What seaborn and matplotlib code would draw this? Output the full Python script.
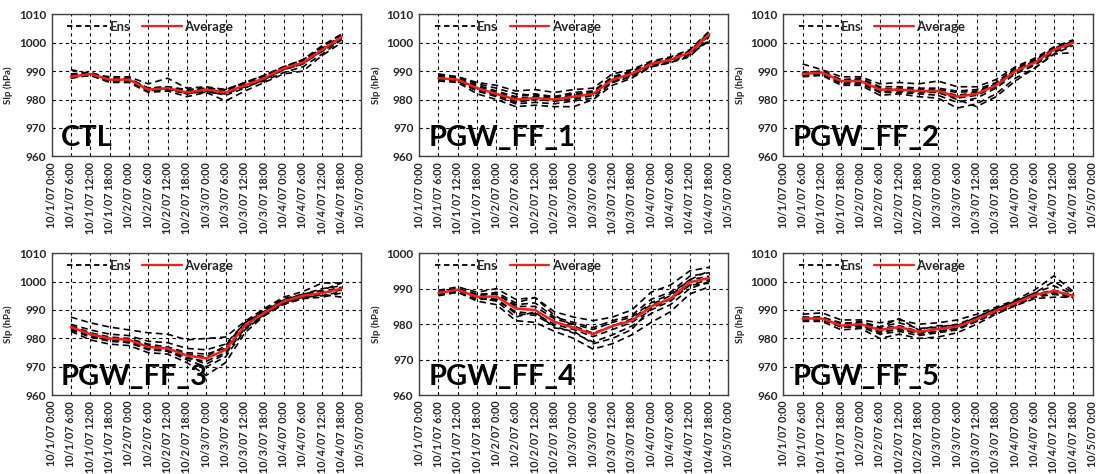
import pandas as pd
import matplotlib.pyplot as plt
import seaborn as sns
from matplotlib.lines import Line2D

# time axis: hours since 10/1/07 0:00 (6-hourly, 10/1 6:00 .. 10/4 18:00)
hours = [6, 12, 18, 24, 30, 36, 42, 48, 54, 60, 66, 72, 78, 84, 90]

# ---- CTL ----
ctl_avg = [988, 989, 987, 987, 983.5, 984, 982.5, 983.5, 982.5, 985, 987.5, 991, 993, 997.5, 1002]
ctl_ens = [
    [988.5, 989.5, 987.5, 987.5, 984, 984.5, 983, 984, 983, 985.5, 988, 991.5, 993.5, 998.5, 1003],
    [987.5, 988.5, 986.5, 986.5, 983, 983.5, 982, 983, 982, 984.5, 987, 990.5, 992.5, 997, 1001.5],
    [990.5, 989, 988, 988, 985.5, 987.5, 984, 984.5, 983.5, 986, 988.5, 991.5, 994, 999, 1003],
    [988, 988.5, 986, 986, 982.5, 983, 981, 982.5, 979.5, 983, 986, 989, 990, 995.5, 1000],
    [989, 989.5, 987.5, 987, 984, 984.5, 983.5, 984, 983.5, 986, 988.5, 991.5, 994, 998, 1002.5],
    [987.5, 989, 986.5, 987.5, 983, 984, 982, 983, 981.5, 984, 987, 990.5, 992.5, 997.5, 1002],
    [988, 988.5, 987, 986.5, 984, 983.5, 982.5, 982.5, 982, 985, 987.5, 991, 993, 997, 1001.5],
    [988.5, 989, 987, 987, 983.5, 984, 983, 983.5, 982.5, 984.5, 986.5, 989.5, 991.5, 996, 1001],
]

# ---- PGW_FF_1 ----
ff1_avg = [987.5, 987, 984, 982, 980, 980.5, 980, 981, 982, 987, 989, 992.5, 994, 996.5, 1003]
ff1_ens = [
    [988.5, 988, 986, 985, 983, 983.5, 982.5, 983.5, 984, 989, 990.5, 993.5, 995, 997.5, 1004],
    [986.5, 986, 982, 980, 977.5, 978, 977.5, 977.5, 980, 985, 987.5, 991.5, 993, 995, 1002],
    [988, 987.5, 985, 983, 981, 982, 981, 982.5, 983, 988, 990, 993, 994.5, 997, 1003.5],
    [987, 986.5, 983, 981, 978.5, 979, 978.5, 979.5, 980.5, 986, 988, 991.5, 993, 995.5, 1001],
    [989, 988, 985.5, 984, 982, 981.5, 981, 982, 982.5, 987.5, 989.5, 993, 994.5, 996.5, 1002.5],
    [987, 987, 983.5, 981.5, 979, 980, 979.5, 980, 981.5, 986.5, 988.5, 992, 993.5, 996, 1003],
    [987.5, 987.5, 984.5, 982.5, 980.5, 981, 980.5, 981.5, 982.5, 987.5, 989, 992.5, 994, 997, 1003.5],
    [988, 986.5, 983, 982, 979.5, 980.5, 979.5, 980.5, 981.5, 986, 988.5, 992, 994, 996, 1000.5],
]

# ---- PGW_FF_2 ----
ff2_avg = [989, 989.5, 986.5, 986.5, 983.5, 983.5, 983, 983, 981, 982, 985, 990, 993, 997.5, 1000]
ff2_ens = [
    [992.5, 990.5, 988, 988, 985.5, 986, 985.5, 986.5, 984.5, 984.5, 987, 991.5, 994.5, 998.5, 1001],
    [988, 988.5, 985, 985, 981.5, 982, 981, 980.5, 977, 978.5, 982, 987.5, 991, 996, 999],
    [989.5, 990, 987, 987.5, 984.5, 984.5, 984, 984, 983, 983.5, 986, 991, 994, 998, 1000.5],
    [988.5, 989, 985.5, 985.5, 982.5, 982.5, 982, 981.5, 979, 980.5, 984, 989, 992, 996.5, 999.5],
    [989, 989.5, 987, 986.5, 983, 984, 983.5, 983.5, 982.5, 983, 985.5, 990.5, 993.5, 997.5, 1000],
    [988.5, 989, 986, 986, 983.5, 983, 982.5, 982.5, 980, 977.5, 981, 986.5, 991, 996, 996.5],
    [989, 990, 986.5, 987, 984, 983.5, 983, 983, 981.5, 982.5, 985.5, 990.5, 993.5, 998, 1000.5],
    [989.5, 989, 986, 986.5, 982.5, 983.5, 983, 982.5, 980.5, 981.5, 984.5, 989.5, 992.5, 997, 999.5],
]

# ---- PGW_FF_3 ----
ff3_avg = [984, 981.5, 980, 979.5, 977, 976.5, 974, 973, 976, 984.5, 989, 993, 995, 996, 997.5]
ff3_ens = [
    [987.5, 985.5, 984, 983, 982, 981.5, 979.5, 980, 980.5, 986, 990.5, 994.5, 996.5, 999.5, 999.5],
    [982.5, 979.5, 978, 977.5, 975, 974.5, 971.5, 967, 971.5, 982, 988, 992, 994, 994.5, 996],
    [985, 983, 981.5, 981, 979, 978.5, 976.5, 976, 978, 985.5, 989.5, 993.5, 995.5, 997.5, 998.5],
    [983.5, 980.5, 979, 978.5, 976, 975.5, 972.5, 970, 973.5, 983, 988.5, 992.5, 994.5, 995, 996.5],
    [984.5, 982, 980.5, 980, 978, 977, 975, 974.5, 976.5, 985, 989.5, 993.5, 995.5, 996.5, 998],
    [983.5, 981, 979.5, 979, 976.5, 976, 973, 972, 975, 984, 988.5, 992.5, 994.5, 996, 997],
    [984, 981.5, 980, 979.5, 977.5, 976.5, 974.5, 973.5, 977.5, 985.5, 990, 994, 995.5, 997, 999.5],
    [983, 980.5, 979.5, 978.5, 976.5, 975.5, 973.5, 971, 974.5, 983.5, 988, 992, 994, 995.5, 994.5],
]

# ---- PGW_FF_4 ----
ff4_avg = [988.8, 989.7, 987.7, 987.8, 984.4, 984, 980.7, 979, 977.2, 979.5, 981, 985, 987.2, 991.8, 993]
ff4_ens = [
    [989.5, 990.5, 989, 990, 987, 987.5, 983.5, 982, 981, 982, 984, 989, 991, 995, 996],
    [988, 989, 986.5, 985.5, 981, 980.5, 978, 976, 973, 974.5, 977, 980.5, 983.5, 988.5, 990.5],
    [989, 990, 988.5, 988.5, 985.5, 986, 982, 980.5, 979, 981, 982.5, 987, 989, 993.5, 994.5],
    [988.5, 989, 987, 987, 983, 982.5, 979.5, 977.5, 975, 977, 979.5, 983, 985.5, 990, 992],
    [989, 990, 988, 988.5, 985, 985, 981.5, 980, 978.5, 980.5, 982, 986, 988.5, 992.5, 993.5],
    [988.5, 989.5, 987.5, 987, 983.5, 983, 980, 978.5, 976.5, 978.5, 980.5, 984, 986.5, 991, 992.5],
    [989, 989.5, 988, 989, 986, 987.5, 982.5, 979.5, 977.5, 979.5, 981.5, 985.5, 988, 992.5, 995],
    [988.5, 990, 987.5, 986.5, 982, 983.5, 979, 978, 974.5, 976, 978.5, 984.5, 987, 991, 991.5],
]

# ---- PGW_FF_5 ----
ff5_avg = [987, 987, 984.5, 985, 983, 984, 982.3, 983.3, 984.2, 986.7, 989.7, 992.4, 995.3, 996.7, 995]
ff5_ens = [
    [988.5, 989, 986.5, 986.5, 985.5, 986.5, 985, 985.5, 986.5, 988.5, 991, 993.5, 997, 1002, 996.5],
    [986, 986, 983, 983.5, 980, 981.5, 980, 980.5, 982, 985, 988.5, 991.5, 994, 994.5, 994.5],
    [987.5, 987.5, 985.5, 985.5, 984, 985.5, 983.5, 984, 985, 987.5, 990.5, 993, 996, 998.5, 995.5],
    [986.5, 986.5, 984, 984, 981.5, 982.5, 981, 982, 983, 986, 989, 991.5, 994.5, 995.5, 994.5],
    [987, 987.5, 985, 985.5, 983.5, 984.5, 982.5, 983.5, 984.5, 987, 990, 992.5, 995.5, 997, 995],
    [986.5, 987, 984, 984.5, 982, 983.5, 981.5, 982.5, 983.5, 986, 989, 992, 995, 996, 995.5],
    [987.5, 986.5, 985, 986, 984, 987, 983, 984.5, 984.5, 987.5, 990.5, 993, 996, 1000, 996],
    [987, 987.5, 984.5, 984.5, 982.5, 983, 982, 982.5, 983.5, 986.5, 989.5, 992.5, 995.5, 996.5, 994],
]

panels = [
    ("CTL", ctl_avg, ctl_ens, 1010),
    ("PGW_FF_1", ff1_avg, ff1_ens, 1010),
    ("PGW_FF_2", ff2_avg, ff2_ens, 1010),
    ("PGW_FF_3", ff3_avg, ff3_ens, 1010),
    ("PGW_FF_4", ff4_avg, ff4_ens, 1000),
    ("PGW_FF_5", ff5_avg, ff5_ens, 1010),
]

# tick labels every 6 hours from 10/1/07 0:00 to 10/5/07 0:00
tick_hours = list(range(0, 97, 6))
tick_labels = [f"10/{1 + h // 24}/07 {h % 24}:00" for h in tick_hours]

sns.set_style("white")
plt.rcParams["font.family"] = ["Lato", "DejaVu Sans"]
plt.rcParams["font.weight"] = "bold"

fig = plt.figure(figsize=(10.97, 4.74), dpi=100)
lefts = [0.047, 0.382, 0.714]
bottoms = [0.670, 0.166]
w, h = 0.282, 0.300

for i, (name, avg, ens, ytop) in enumerate(panels):
    ax = fig.add_axes([lefts[i % 3], bottoms[i // 3], w, h])

    ens_df = pd.DataFrame(
        [(m, t, v) for m, row in enumerate(ens) for t, v in zip(hours, row)],
        columns=["member", "hour", "slp"],
    )
    avg_df = pd.DataFrame({"hour": hours, "slp": avg})

    sns.lineplot(data=ens_df, x="hour", y="slp", units="member", estimator=None,
                 color="black", linewidth=1.2, dashes=False, ax=ax, zorder=3)
    for ln in ax.lines:
        ln.set_linestyle((0, (4, 2.5)))
    sns.lineplot(data=avg_df, x="hour", y="slp", color="#ff1a1a", linewidth=1.8,
                 ax=ax, zorder=4)

    ax.set_xlim(0, 96)
    ax.set_ylim(960, ytop)
    ax.set_xticks(tick_hours)
    ax.set_xticklabels(tick_labels, rotation=90, fontsize=7.8, fontweight="bold")
    ax.set_yticks(range(960, ytop + 1, 10))
    ax.tick_params(axis="y", labelsize=8.5, length=0, pad=4)
    ax.tick_params(axis="x", length=0, pad=4)
    ax.set_xlabel("")
    ax.set_ylabel("Slp (hPa)", fontsize=7, fontweight="bold", labelpad=4)
    ax.grid(True, color="black", linestyle=(0, (3, 3)), linewidth=0.8)
    ax.set_axisbelow(True)
    for sp in ax.spines.values():
        sp.set_color("#404040")
        sp.set_linewidth(1.0)

    handles = [
        Line2D([], [], color="black", linewidth=1.3, linestyle=(0, (3, 2))),
        Line2D([], [], color="#ff1a1a", linewidth=1.6),
    ]
    ax.legend(handles, ["Ens", "Average"], loc="upper left", ncol=2, frameon=False,
              prop={"size": 9.5, "weight": "bold"}, handlelength=3.0,
              handletextpad=0.2, columnspacing=0.9,
              borderaxespad=0.1, bbox_to_anchor=(0.03, 1.0))

    ax.text(0.03, 0.04, name, transform=ax.transAxes, fontsize=21,
            fontweight="bold", color="black", va="bottom", ha="left", zorder=5)

plt.savefig("out.png", dpi=100)
